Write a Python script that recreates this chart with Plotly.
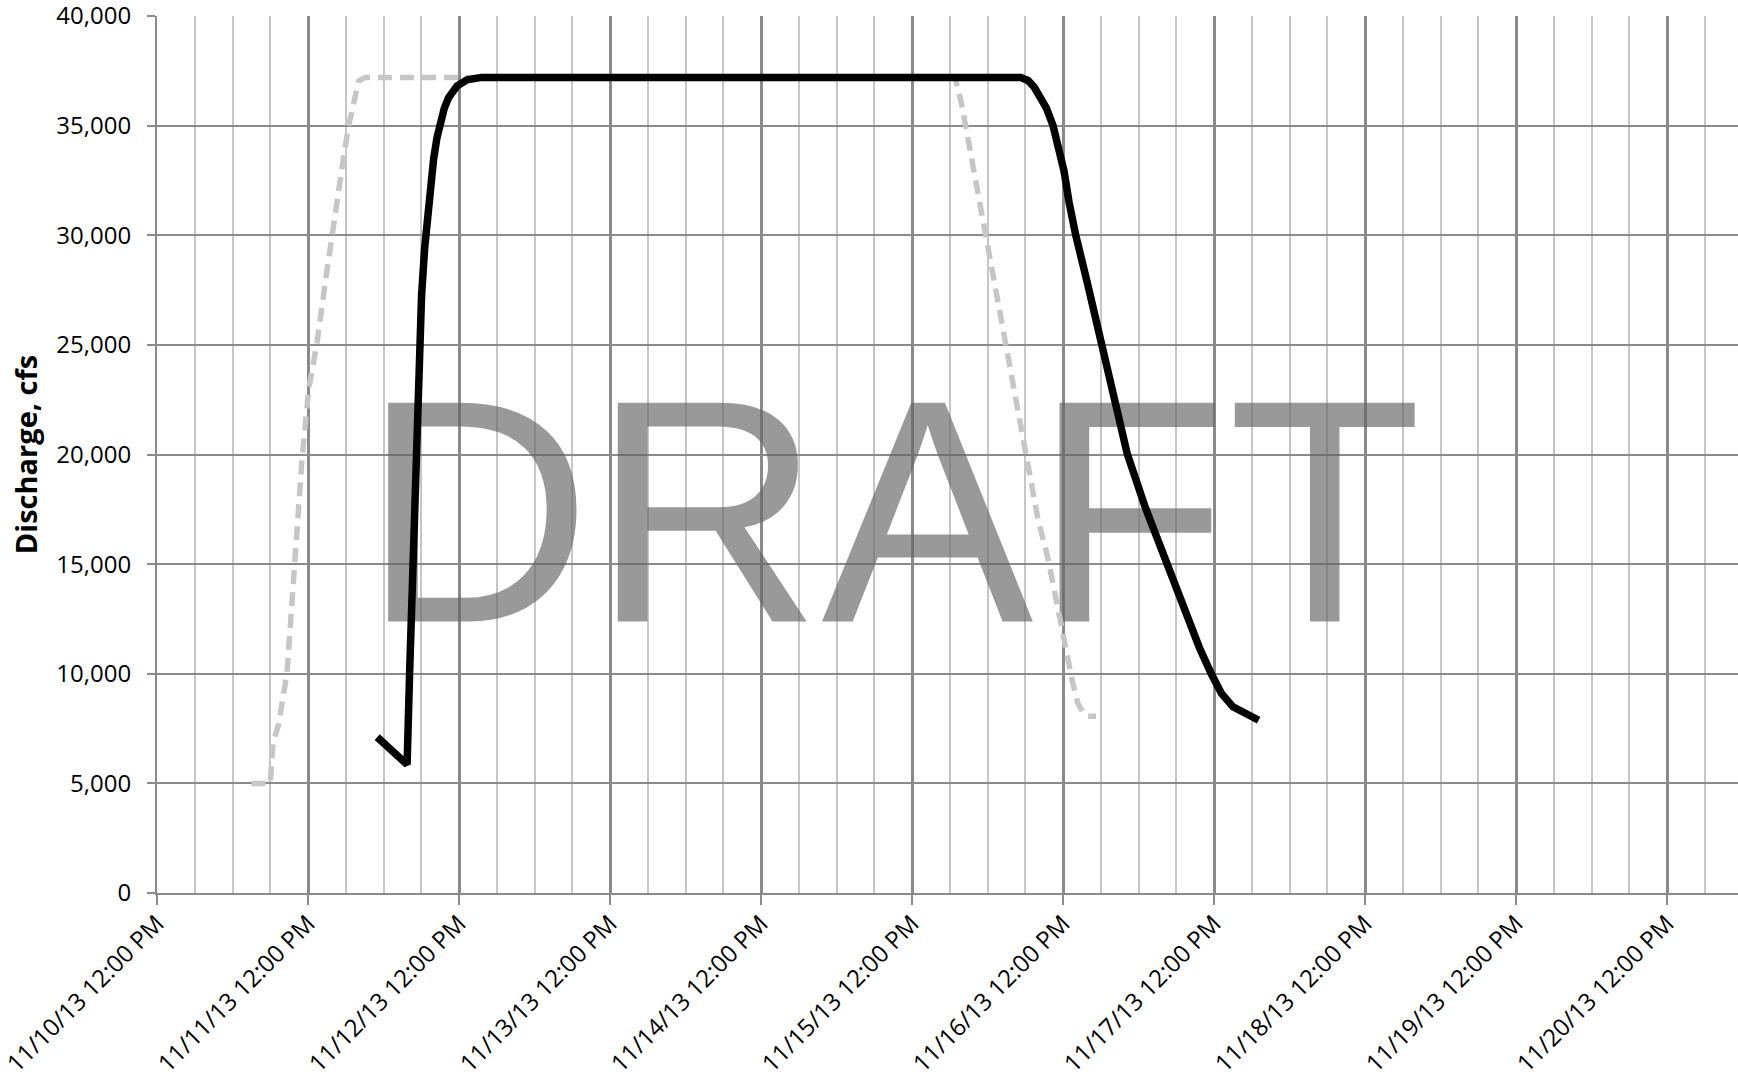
import plotly.graph_objects as go
from datetime import datetime, timedelta

# ---- data ----
gray_times = ["2013-11-11 03:00", "2013-11-11 06:00", "2013-11-11 06:26", "2013-11-11 07:20",
              "2013-11-11 08:40", "2013-11-11 09:28", "2013-11-11 10:15", "2013-11-11 11:02",
              "2013-11-11 12:06", "2013-11-11 13:26", "2013-11-11 14:46", "2013-11-11 16:05",
              "2013-11-11 17:24", "2013-11-11 18:27", "2013-11-11 19:22", "2013-11-11 20:04",
              "2013-11-11 21:07", "2013-11-15 18:50", "2013-11-15 19:51", "2013-11-15 21:10",
              "2013-11-15 22:45", "2013-11-16 00:04", "2013-11-16 01:39", "2013-11-16 03:14",
              "2013-11-16 04:51", "2013-11-16 06:26", "2013-11-16 08:01", "2013-11-16 09:36",
              "2013-11-16 10:55", "2013-11-16 11:59", "2013-11-16 12:46", "2013-11-16 13:34",
              "2013-11-16 14:21", "2013-11-16 15:09", "2013-11-16 15:56", "2013-11-16 17:15"]
gray_values = [5000, 5000, 6830, 7690, 10050, 13280, 16500, 19730, 22960, 25110, 27900, 30700,
               33060, 35000, 36290, 37040, 37200, 37200, 36030, 33950, 31480, 29600, 27040,
               24470, 21900, 19430, 17050, 15280, 13300, 11720, 10640, 9550, 8660, 8260, 8060, 8060]

black_times = ["2013-11-11 23:00", "2013-11-12 03:45", "2013-11-12 04:09", "2013-11-12 04:37",
               "2013-11-12 05:02", "2013-11-12 05:27", "2013-11-12 05:44", "2013-11-12 06:03",
               "2013-11-12 06:32", "2013-11-12 07:11", "2013-11-12 07:58", "2013-11-12 08:30",
               "2013-11-12 09:01", "2013-11-12 09:40", "2013-11-12 10:21", "2013-11-12 11:41",
               "2013-11-12 13:16", "2013-11-12 15:36", "2013-11-16 05:17", "2013-11-16 06:29",
               "2013-11-16 07:26", "2013-11-16 08:24", "2013-11-16 09:22", "2013-11-16 10:25",
               "2013-11-16 11:18", "2013-11-16 12:10", "2013-11-16 12:58", "2013-11-16 14:01",
               "2013-11-16 15:52", "2013-11-16 18:06", "2013-11-16 19:03", "2013-11-16 20:38",
               "2013-11-16 22:13", "2013-11-17 00:59", "2013-11-17 02:45", "2013-11-17 04:32",
               "2013-11-17 07:52", "2013-11-17 09:40", "2013-11-17 11:34", "2013-11-17 13:11",
               "2013-11-17 15:01", "2013-11-17 17:24", "2013-11-17 19:06"]
black_values = [7110, 5860, 10040, 14340, 18640, 22940, 25090, 27240, 29390, 31540, 33480, 34450,
                35200, 35800, 36280, 36810, 37090, 37200, 37200, 37050, 36750, 36300, 35800, 35000,
                33940, 32920, 31500, 30010, 27830, 25020, 23760, 21730, 20020, 17660, 16300, 15010,
                12570, 11200, 10000, 9100, 8490, 8080, 7880]

y_ticks = [0, 5000, 10000, 15000, 20000, 25000, 30000, 35000, 40000]
y_title = "Discharge, cfs"
watermark = "DRAFT"

# ---- layout constants ----
W, H = 1738, 1081
L, R, T, B = 157, 0, 16, 188
x0 = datetime(2013, 11, 10, 12, 0)
day_px = 151.0
plot_w = W - L - R
plot_h = H - T - B
x1 = x0 + timedelta(days=plot_w / day_px)

grid_major = "#8a8a8a"
grid_minor = "#c6c6c6"
tick_font = dict(family="Open Sans", size=24, color="black")

# watermark position (pixel -> axis values)
wm_x = x0 + timedelta(days=(892 - L) / day_px)
wm_y = (T + plot_h - 542) / plot_h * 40000

fig = go.Figure()

fig.add_trace(go.Scatter(
    x=[wm_x], y=[wm_y], mode="text", text=[watermark], textposition="middle center",
    textfont=dict(family="Liberation Sans", size=318, color="rgba(100,100,100,0.66)"),
    hoverinfo="skip", showlegend=False, cliponaxis=False))

fig.add_trace(go.Scatter(
    x=gray_times, y=gray_values, mode="lines",
    line=dict(color="#c6c6c6", width=5.5, dash="14px,8px"),
    showlegend=False))

fig.add_trace(go.Scatter(
    x=black_times, y=black_values, mode="lines",
    line=dict(color="black", width=7.5, shape="linear"),
    showlegend=False))

fig.update_layout(
    width=W, height=H,
    margin=dict(l=L, r=R, t=T, b=B, pad=0),
    paper_bgcolor="white", plot_bgcolor="white",
    showlegend=False,
)

fig.update_xaxes(
    type="date",
    range=[x0, x1],
    tick0="2013-11-10 12:00", dtick=86400000,
    tickformat="%m/%d/%y %I:%M %p",
    tickangle=-45,
    tickfont=tick_font,
    ticklabeloverflow="allow",
    ticklabelstandoff=-5,
    ticks="outside", ticklen=10, tickwidth=2, tickcolor=grid_major,
    showgrid=True, gridcolor=grid_major, gridwidth=2.5,
    minor=dict(dtick=21600000, tick0="2013-11-10 12:00", showgrid=True,
               gridcolor=grid_minor, gridwidth=1.8, ticks=""),
    showline=True, linecolor=grid_major, linewidth=2,
    zeroline=False, automargin=False,
)

fig.update_yaxes(
    range=[0, 40000.5],
    tickvals=y_ticks,
    tickformat=",",
    tickfont=tick_font,
    ticklabeloverflow="allow",
    ticks="outside", ticklen=8, tickwidth=2, tickcolor=grid_major,
    ticklabelstandoff=11,
    showgrid=True, gridcolor=grid_major, gridwidth=2,
    showline=True, linecolor=grid_major, linewidth=2,
    zeroline=False, automargin=False,
    title=dict(text=y_title, font=dict(family="Open Sans", size=29, color="black", weight="bold"),
               standoff=10),
)

fig.write_html("out.html", config={"displayModeBar": False},
               post_script="document.body.style.margin='0';")
